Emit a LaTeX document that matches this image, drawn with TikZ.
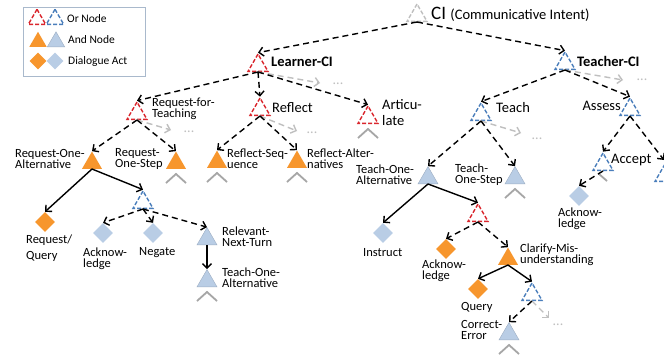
\documentclass[tikz,border=0pt]{standalone}
\usepackage{fontspec}
\setmainfont{Carlito}
\usetikzlibrary{shapes.geometric,arrows.meta}
\definecolor{orng}{HTML}{F7962D}
\definecolor{lblue}{HTML}{B9CDE5}
\definecolor{ored}{RGB}{218,38,45}
\definecolor{oblue}{HTML}{4A7EBB}
\definecolor{ltgray}{HTML}{BFBFBF}
\definecolor{chevgray}{HTML}{A6A6A6}
\definecolor{legbord}{HTML}{A9B9CC}
\newcommand\mychev[1]{\draw[chev] ([xshift=-10pt,yshift=-14pt]#1.south) -- ([yshift=-5pt]#1.south) -- ([xshift=10pt,yshift=-14pt]#1.south);}
\begin{document}
\begin{tikzpicture}[x=1pt,y=-1pt,
 tri/.style={regular polygon, regular polygon sides=3, minimum size=23pt, inner sep=0pt, anchor=south},
 ortri/.style={tri, draw, dash pattern=on 4pt off 2pt, line width=1.4pt},
 redor/.style={ortri, draw=ored},
 blueor/.style={ortri, draw=oblue},
 grayor/.style={ortri, draw=ltgray},
 andor/.style={tri, fill=orng},
 andbl/.style={tri, fill=lblue, draw=lblue!85!black, line width=0.4pt},
 dia/.style={diamond, minimum size=20pt, inner sep=0pt},
 diaor/.style={dia, fill=orng},
 diabl/.style={dia, fill=lblue},
 lab/.style={font=\fontsize{12.5}{11}\selectfont, align=left, inner sep=0pt, anchor=west},
 mlab/.style={font=\fontsize{14.5}{16}\selectfont, align=left, inner sep=0pt, anchor=west},
 blab/.style={font=\fontsize{14.5}{16}\selectfont\bfseries, inner sep=0pt, anchor=west},
 leglab/.style={font=\fontsize{11.5}{12}\selectfont, inner sep=0pt, anchor=west},
 dots/.style={text=ltgray, font=\fontsize{14}{14}\selectfont, inner sep=0pt},
 orarr/.style={line width=1.4pt, dash pattern=on 6pt off 4pt, -{Straight Barb[length=4.5pt,width=9pt]}},
 andarr/.style={line width=1.4pt, -{Straight Barb[length=4.5pt,width=9pt]}},
 grarr/.style={orarr, draw=ltgray},
 chev/.style={draw=chevgray, line width=1.8pt},
]
\useasboundingbox (0,0) rectangle (664,354);
\clip (0,0) rectangle (664,354);
\fill[white] (0,0) rectangle (664,354);

% legend
\node[draw=legbord, line width=0.8pt, minimum width=122pt, minimum height=69pt, anchor=north west, inner sep=0pt] (leg) at (23,7) {};
\node[redor, minimum size=20pt] (lg1) at (37,25) {};
\node[blueor, minimum size=20pt] (lg2) at (55,25) {};
\node[leglab] (lgt1) at (67,19) {Or Node};
\node[andor, minimum size=20pt] (lg3) at (38,47) {};
\node[andbl, minimum size=20pt] (lg4) at (56,47) {};
\node[leglab] (lgt2) at (68,40) {And Node};
\node[diaor, minimum size=17pt] (lg5) at (38,61) {};
\node[diabl, minimum size=17pt] (lg6) at (55,61) {};
\node[leglab] (lgt3) at (68,61) {Dialogue Act};

% nodes
\node[grayor] (ci) at (417,22) {};
\node[anchor=west, inner sep=0pt] (cil) at (431,14) {\fontsize{19}{19}\selectfont CI \fontsize{14.5}{16}\selectfont(Communicative Intent)};
\node[redor] (lci) at (258,72) {};
\node[blab] (lcil) at (271,62) {Learner-CI};
\node[blueor] (tci) at (565,70) {};
\node[blab] (tcil) at (577,61) {Teacher-CI};

\node[redor] (rft) at (137,120) {};
\node[lab] (rftl) at (152,109) {Request-for-\\Teaching};
\node[redor] (refl) at (260,116) {};
\node[mlab] (refll) at (272,108) {Reflect};
\node[redor] (art) at (368,124) {};
\node[mlab] (artl) at (382,113) {Articu-\\late};
\node[blueor] (teach) at (481,121) {};
\node[mlab] (teachl) at (496,108) {Teach};
\node[blueor] (assess) at (630,116) {};
\node[mlab, anchor=east] (assessl) at (621,106) {Assess};

\node[andor] (roa) at (92,169) {};
\node[lab] (roal) at (15,159) {Request-One-\\Alternative};
\node[andor] (ros) at (176,169) {};
\node[lab] (rosl) at (115,159) {Request-\\One-Step};
\node[andor] (rseq) at (217,168) {};
\node[lab] (rseql) at (227,159) {Reflect-Seq-\\uence};
\node[andor] (ralt) at (297,168) {};
\node[lab] (raltl) at (307,159) {Reflect-Alter-\\natives};
\node[andbl] (toa) at (428,184) {};
\node[lab] (toal) at (356,175) {Teach-One-\\Alternative};
\node[andbl] (tos) at (515,184) {};
\node[lab] (tosl) at (455,175) {Teach-\\One-Step};
\node[blueor] (acc) at (603,171) {};
\node[mlab] (accl) at (611,160) {Accept};
\node[diabl] (ack3) at (579,196) {};
\node[lab] (ack3l) at (558,219) {Acknow-\\ledge};
\node[blueor] (ptri) at (665,182) {};

\node[blueor] (lor) at (143,209) {};
\node[diaor] (rq) at (45,222) {};
\node[lab, font=\fontsize{12.5}{15.5}\selectfont] (rql) at (26,248) {Request/\\Query};
\node[diabl] (ack1) at (103,233) {};
\node[lab] (ack1l) at (83,259) {Acknow-\\ledge};
\node[diabl] (neg) at (153,233) {};
\node[lab] (negl) at (139,253) {Negate};
\node[andbl] (rnt) at (207,245) {};
\node[lab] (rntl) at (222,237) {Relevant-\\Next-Turn};
\node[andbl] (toa2) at (207,287) {};
\node[lab] (toa2l) at (222,278) {Teach-One-\\Alternative};

\node[diabl] (ins) at (383,233) {};
\node[lab] (insl) at (363,253) {Instruct};
\node[redor] (ror) at (478,222) {};
\node[diaor] (ack2) at (446,249) {};
\node[lab] (ack2l) at (422,271) {Acknow-\\ledge};
\node[andor] (clar) at (508,265) {};
\node[lab] (clarl) at (520,255) {Clarify-Mis-\\understanding};
\node[diaor] (qry) at (478,289) {};
\node[lab] (qryl) at (461,307) {Query};
\node[blueor] (bor) at (532,301) {};
\node[andbl] (ce) at (509,340) {};
\node[lab] (cel) at (461,330) {Correct-\\Error};

% gray continuation ends
\coordinate (g1) at (320,83); \node[dots] (d1) at (338,84) {...};
\coordinate (g2) at (623,80); \node[dots] (d2) at (642,80) {...};
\coordinate (g3) at (171,130); \node[dots] (d3) at (189,132) {...};
\coordinate (g4) at (297,131); \node[dots] (d4) at (312,133) {...};
\coordinate (g5) at (521,133); \node[dots] (d5) at (537,139) {...};
\coordinate (g6) at (549,318); \node[dots] (d6) at (558,325) {...};
\coordinate (offr) at (664,160);

% chevrons
\mychev{ros}
\mychev{rseq}
\mychev{ralt}
\mychev{art}
\mychev{tos}
\mychev{toa2}
\mychev{ce}
\draw[chev] ([xshift=-4pt,yshift=-3pt]acc.south) -- ([xshift=4pt,yshift=-10pt]acc.south);

% edges
\draw[orarr] (ci.south) -- (lci.north);
\draw[orarr] (ci.south) -- (tci.north);
\draw[grarr] (lci.south) -- (g1);
\draw[orarr] (lci.south) -- (rft.north);
\draw[orarr] (lci.south) -- (refl.north);
\draw[orarr] (lci.south) -- (art.north);
\draw[grarr] (tci.south) -- (g2);
\draw[orarr] (tci.south) -- (teach.north);
\draw[orarr] (tci.south) -- (assess.north);
\draw[grarr] (rft.south) -- (g3);
\draw[orarr] (rft.south) -- (roa.north);
\draw[orarr] (rft.south) -- (ros.north);
\draw[grarr] (refl.south) -- (g4);
\draw[orarr] (refl.south) -- (rseq.north);
\draw[orarr] (refl.south) -- (ralt.north);
\draw[grarr] (teach.south) -- (g5);
\draw[orarr] (teach.south) -- (toa.north);
\draw[orarr] (teach.south) -- (tos.north);
\draw[orarr] (assess.south) -- (acc.north);
\draw[orarr] (assess.south) -- (offr);
\draw[orarr] (acc.south) -- (ack3.north);
\draw[andarr] (roa.south) -- (rq.north);
\draw[andarr] (roa.south) -- (lor.north);
\draw[orarr] (lor.south) -- (ack1.north);
\draw[orarr] (lor.south) -- (neg.north);
\draw[orarr] (lor.south) -- (rnt.north);
\draw[andarr] (rnt.south) -- (toa2.north);
\draw[andarr] (toa.south) -- (ins.north);
\draw[andarr] (toa.south) -- (ror.north);
\draw[orarr] (ror.south) -- (ack2.north);
\draw[orarr] (ror.south) -- (clar.north);
\draw[andarr] (clar.south) -- (qry.north);
\draw[andarr] (clar.south) -- (bor.north);
\draw[grarr] (bor.south) -- (g6);
\draw[orarr] (bor.south) -- (ce.north);
\end{tikzpicture}
\end{document}
